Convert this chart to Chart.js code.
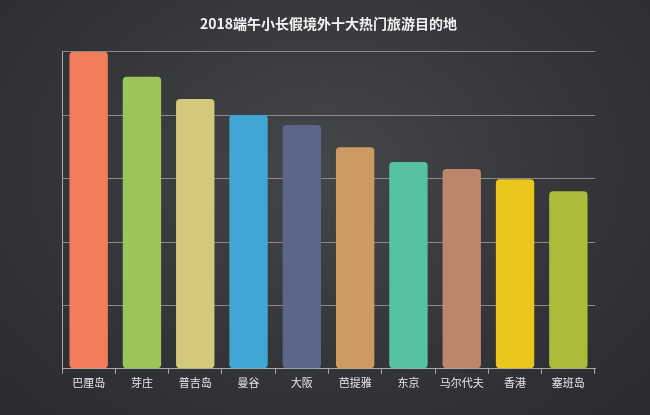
<!DOCTYPE html>
<html><head><meta charset="utf-8">
<script src="https://cdn.jsdelivr.net/npm/chart.js@4"></script>
<style>html,body{margin:0;padding:0;}body{width:650px;height:415px;background:radial-gradient(ellipse at 50% 40%,#45464a 0%,#333437 60%,#2a2b2e 100%);}#c{display:block}</style>
</head><body>
<canvas id="c" width="650" height="415"></canvas>
<script>
const categories=["巴厘岛","芽庄","普吉岛","曼谷","大阪","芭提雅","东京","马尔代夫","香港","塞班岛"];
const values=[100,92.1,85.1,80.1,76.9,69.9,65.2,63,59.8,56];
const colors=["#f37d5a","#9cc45a","#d4c97a","#3fa6d6","#5c6688","#cc9a62","#55c3a3","#bb8669","#ebc71d","#adba3a"];
const title="2018端午小长假境外十大热门旅游目的地";
new Chart(document.getElementById('c'),{type:'bar',
data:{labels:categories,datasets:[{data:values,backgroundColor:colors,borderRadius:4,borderSkipped:false,categoryPercentage:0.72,barPercentage:1}]},
options:{responsive:false,animation:false,devicePixelRatio:1,
layout:{padding:{left:62,right:55,top:9,bottom:24}},
plugins:{legend:{display:false},tooltip:{enabled:false},
title:{display:true,text:title,color:'#f2f2f2',font:{family:'Noto Sans CJK SC',size:14,weight:'bold'},padding:{top:6,bottom:20}}},
scales:{x:{grid:{display:true,offset:true,color:'rgba(0,0,0,0)',tickColor:'#aaa',tickLength:5,drawOnChartArea:false},border:{color:'#aaa'},ticks:{color:'#e8e8e8',font:{family:'Noto Sans CJK SC',size:11},padding:2}},
y:{min:0,max:100,ticks:{stepSize:20,display:false},grid:{color:'#8a8a8a',tickLength:0},border:{color:'#aaa'}}}}});
</script>
</body></html>
